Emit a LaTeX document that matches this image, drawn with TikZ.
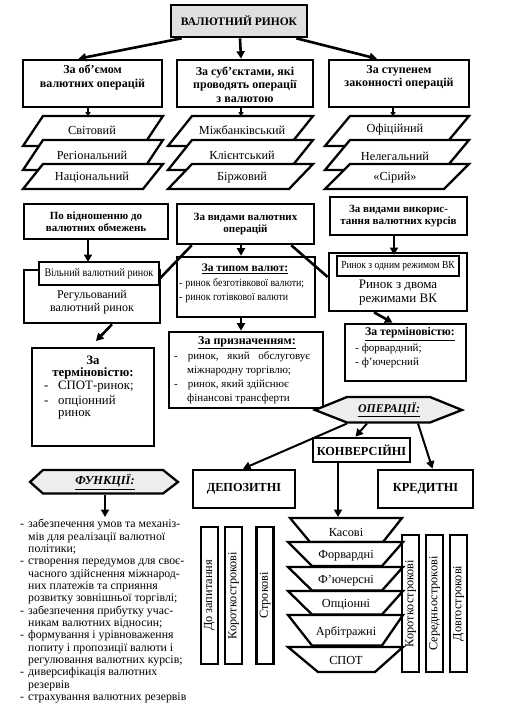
\documentclass[tikz,border=0pt]{standalone}
\usepackage{fontspec}
\setmainfont{Liberation Serif}
\newfontfamily\narrowfont[FakeStretch=0.88]{Liberation Serif}
\usetikzlibrary{arrows.meta,calc}
\newcommand\pgram[5]{\draw[shp] (#1,#5) -- ({#1+#2},#4) -- ({#1+#2+#3},#4) -- ({#1+#3},#5) -- cycle;}
\newcommand\trap[6]{\draw[shp] (#1,#5) -- (#2,#5) -- (#4,#6) -- (#3,#6) -- cycle;}
\newcommand\dsh{\makebox[8pt][l]{-}}
\newcommand\ind{\makebox[8pt][l]{}}
\begin{document}
\begin{tikzpicture}[x=1pt,y=-1pt,
  box/.style={draw, line width=2.6pt, fill=white, inner sep=0pt, align=center, font=\bfseries\fontsize{11}{12}\selectfont},
  shp/.style={draw, line width=2.3pt, fill=white, line join=miter},
  txt/.style={inner sep=0pt, font=\fontsize{12.3}{13}\selectfont},
  stxt/.style={inner sep=0pt, font=\fontsize{11}{13}\selectfont},
  ntxt/.style={inner sep=0pt, font=\narrowfont\fontsize{11.2}{12}\selectfont},
  btxt/.style={inner sep=0pt, align=center, font=\bfseries\fontsize{12}{13.5}\selectfont},
  arr/.style={line width=2.6pt, -{Triangle[length=7.5pt,width=8pt]}},
  sarr/.style={line width=1.3pt, -{Triangle[length=4.5pt,width=5pt]}},
  ln/.style={line width=2.6pt},
  vbox/.style={draw, line width=2.3pt, fill=white, inner sep=0pt, rotate=90, minimum height=17pt, minimum width=137pt, font=\fontsize{12.3}{13}\selectfont},
]
\useasboundingbox (0,0) rectangle (505,717);
\fill[white] (0,0) rectangle (505,717);

% ---- title and first row
\node[box, fill=black!12, minimum width=136pt, minimum height=32pt, font=\bfseries\fontsize{11.5}{12}\selectfont] (title) at (239,21) {ВАЛЮТНИЙ РИНОК};
\node[box, minimum width=139pt, minimum height=47pt] (b1) at (92.5,83.5) {};
\node[box, minimum width=136pt, minimum height=47pt] (b2) at (245,83.5) {};
\node[box, minimum width=140pt, minimum height=47pt] (b3) at (399,83.5) {};
\node[btxt] (b1t) at (92.5,77.5) {За об’ємом\\валютних операцій};
\node[btxt] (b2t) at (245,84.5) {За суб’єктами, які\\проводять операції\\з валютою};
\node[btxt] (b3t) at (399,77.5) {За ступенем\\законності операцій};
\draw[arr] ([xshift=12pt]title.south west) -- ([xshift=-14pt]b1.north);
\draw[arr] ([xshift=1pt]title.south) -- ([xshift=-4pt]b2.north);
\draw[arr] ([xshift=-12pt]title.south east) -- ([xshift=-22pt]b3.north);

% ---- parallelograms
\pgram{23}{20}{120}{116}{146}
\pgram{23}{20}{120}{140}{170}
\pgram{23}{20}{120}{164}{189}
\pgram{168}{24}{121}{116}{146}
\pgram{168}{24}{121}{140}{170}
\pgram{168}{24}{121}{164}{189}
\pgram{325}{25}{119}{116}{146}
\pgram{325}{25}{119}{140}{170}
\pgram{325}{25}{119}{164}{189}
\node[txt] (g1a) at (92,130) {Світовий};
\node[txt] (g1b) at (92,155) {Регіональний};
\node[txt] (g1c) at (92,177.5) {Національний};
\node[txt] (g2a) at (242,130) {Міжбанківський};
\node[txt] (g2b) at (242,155) {Клієнтський};
\node[txt] (g2c) at (242,177.5) {Біржовий};
\node[txt] (g3a) at (395,130) {Офіційний};
\node[txt] (g3b) at (395,156) {Нелегальний};
\node[txt] (g3c) at (395,177.5) {«Сірий»};
\coordinate (g1top) at (88,116.5);
\coordinate (g2top) at (241,116.5);
\coordinate (g3top) at (393,116.5);
\draw[sarr] (b1.south -| g1top) -- (g1top);
\draw[sarr] (b2.south -| g2top) -- (g2top);
\draw[sarr] (b3.south -| g3top) -- (g3top);

% ---- second row
\node[box, minimum width=144pt, minimum height=35pt] (c1) at (96,221.5) {По відношенню до\\валютних обмежень};
\node[box, minimum width=137pt, minimum height=40pt] (c2) at (245.5,224) {За видами валютних\\операцій};
\node[box, minimum width=137pt, minimum height=38pt] (c3) at (398.5,216) {За видами викорис-\\тання валютних курсів};

% left column
\node[box, minimum width=136pt, minimum height=53pt] (reg) at (92,296.5) {};
\node[txt, align=center, font=\fontsize{12}{13}\selectfont] (regt) at (92,302) {Регульований\\валютний ринок};
\node[box, minimum width=120pt, minimum height=23pt, font=\narrowfont\fontsize{11.5}{12}\selectfont\mdseries] (free) at (99,273.5) {Вільний валютний ринок};
\draw[arr] (c1.south -| 88,0) -- (88,262);
\node[box, minimum width=122pt, minimum height=98pt] (lt) at (93,397) {};
\node[btxt, font=\bfseries\fontsize{12.8}{12.5}\selectfont] (lt1) at (93,367.5) {За\\терміновістю:};
\node[txt, anchor=west, font=\fontsize{12.8}{14}\selectfont] (lt3) at (44,387) {\dsh\hspace{6pt}СПОТ-ринок;};
\node[txt, anchor=west, font=\fontsize{12.8}{14}\selectfont] (lt4) at (44,401) {\dsh\hspace{6pt}опціонний};
\node[txt, anchor=west, font=\fontsize{12.8}{14}\selectfont] (lt5) at (58,415) {ринок};
\coordinate (regarr) at (96,341);
\draw[arr] ([xshift=20pt]reg.south) -- (regarr);

% middle column
\node[box, minimum width=138pt, minimum height=60pt] (typ) at (246,287) {};
\node[btxt, font=\bfseries\fontsize{11.5}{13}\selectfont] (typ1) at (245,269) {\underline{За типом валют:}};
\node[ntxt, anchor=west] (typ2) at (179,283.5) {-\hspace{3pt}ринок безготівкової валюти;};
\node[ntxt, anchor=west] (typ3) at (179,297.5) {-\hspace{3pt}ринок готівкової валюти};
\draw[arr] (c2.south -| 241,0) -- (typ.north -| 241,0);
\draw[ln] ([xshift=16pt]c2.south west) -- (free.east |- 0,278);

\node[box, minimum width=154pt, minimum height=76pt] (pur) at (246,370) {};
\node[btxt] (pur1) at (247,343) {\underline{За призначенням:}};
\node[stxt, anchor=west] (pur2) at (174,357) {-\hspace{10pt}ринок,\hspace{6pt} який\hspace{6pt} обслуговує};
\node[stxt, anchor=west] (pur3) at (187,371) {міжнародну торгівлю;};
\node[stxt, anchor=west] (pur4) at (174,385) {-\hspace{10pt}ринок, який здійснює};
\node[stxt, anchor=west] (pur5) at (187,398.5) {фінансові трансферти};
\draw[arr] (typ.south -| 241,0) -- (pur.north -| 241,0);

% right column
\node[box, minimum width=138pt, minimum height=58pt] (two) at (398,282) {};
\node[txt, align=center, font=\fontsize{13}{14.5}\selectfont] (twot) at (398,292.5) {Ринок з двома\\режимами ВК};
\node[box, minimum width=122pt, minimum height=20pt, font=\narrowfont\fontsize{10.8}{12}\selectfont\mdseries] (one) at (398,266) {Ринок з одним режимом ВК};
\draw[arr] (c3.south -| 394,0) -- (394,255);
\draw[ln] ([xshift=-24pt]c2.south east) -- (two.west |- 0,277);

\node[box, minimum width=121pt, minimum height=57pt] (rt) at (405.5,352.5) {};
\node[btxt, font=\bfseries\fontsize{11.8}{13}\selectfont] (rt1) at (410,334) {\underline{За терміновістю:}};
\node[stxt, anchor=west] (rt2) at (355,349) {-\hspace{3pt}форвардний;};
\node[stxt, anchor=west] (rt3) at (355,362.5) {-\hspace{3pt}ф’ючерсний};
\draw[arr] ([xshift=-24pt]two.south) -- ([xshift=-13pt]rt.north);

% ---- operations
\draw[line width=2.3pt, fill=black!7] (315,410) -- (347,397) -- (430,397) -- (462,410) -- (430,422.5) -- (347,422.5) -- cycle;
\node[inner sep=0pt, font=\bfseries\itshape\fontsize{11.8}{13}\selectfont] (ops) at (389,410) {\underline{ОПЕРАЦІЇ:}};
\coordinate (opsBL) at (347,423.5);
\coordinate (opsB) at (367,423.5);
\coordinate (opsBR) at (418,423.5);
\node[box, minimum width=97pt, minimum height=24pt, font=\bfseries\fontsize{12.3}{13}\selectfont] (conv) at (361.5,450) {КОНВЕРСІЙНІ};
\node[box, minimum width=102pt, minimum height=38pt, font=\bfseries\fontsize{12.3}{13}\selectfont] (dep) at (244,489) {ДЕПОЗИТНІ};
\node[box, minimum width=95pt, minimum height=38pt, font=\bfseries\fontsize{12.3}{13}\selectfont] (cred) at (425.5,489) {КРЕДИТНІ};
\draw[arr, line width=2pt] (opsB) -- ([xshift=-6pt]conv.north);
\draw[arr, line width=2pt] (opsBL) -- ([xshift=-1pt]dep.north);
\draw[arr, line width=2pt] (opsBR) -- ([xshift=7pt]cred.north);

% ---- functions
\draw[line width=2.3pt, fill=black!7] (30,482) -- (43,470) -- (163,470) -- (178,482) -- (163,493.5) -- (43,493.5) -- cycle;
\node[inner sep=0pt, font=\bfseries\itshape\fontsize{12.3}{13}\selectfont] (fun) at (105,482) {\underline{ФУНКЦІЇ:}};
\coordinate (funB) at (105,494.5);
\draw[arr, line width=2pt] (funB) -- (105,517);
\node[inner sep=0pt, anchor=north west, align=left, font=\fontsize{11.8}{12.36}\selectfont] (flist) at (20,519) {%
\dsh забезпечення умов та механіз-\\
\ind мів для реалізації валютної\\
\ind політики;\\
\dsh створення передумов для своє-\\
\ind часного здійснення міжнарод-\\
\ind них платежів та сприяння\\
\ind розвитку зовнішньої торгівлі;\\
\dsh забезпечення прибутку учас-\\
\ind никам валютних відносин;\\
\dsh формування і урівноваження\\
\ind попиту і пропозиції валюти і\\
\ind регулювання валютних курсів;\\
\dsh диверсифікація валютних\\
\ind резервів\\
\dsh страхування валютних резервів};

% ---- vertical boxes
\node[vbox] (v1) at (209.5,595.5) {До запитання};
\node[vbox] (v2) at (233.5,595.5) {Короткострокові};
\node[vbox] (v3) at (265,595.5) {Строкові};
\node[vbox] (v4) at (410.5,603.5) {Короткострокові};
\node[vbox] (v5) at (434.5,603.5) {Середньострокові};
\node[vbox] (v6) at (458.5,603.5) {Довгострокові};

% ---- trapezoids
\trap{290}{402}{310}{383}{518}{542}
\trap{288}{403}{312}{382}{542}{566}
\trap{288}{403}{312}{382}{567}{590.5}
\trap{288}{403}{312}{382}{591}{614.5}
\trap{288}{403}{312}{382}{615}{645.5}
\trap{288}{403}{318}{375}{647}{672}
\node[txt] (t1) at (346,532) {Касові};
\node[txt] (t2) at (346,556) {Форвардні};
\node[txt] (t3) at (346,580.5) {Ф’ючерсні};
\node[txt] (t4) at (346,605) {Опціонні};
\node[txt] (t5) at (346,632) {Арбітражні};
\node[txt] (t6) at (346,660) {СПОТ};
\coordinate (trtop) at (338,517);
\draw[arr, line width=2pt] (conv.south -| trtop) -- (trtop);
\end{tikzpicture}
\end{document}
